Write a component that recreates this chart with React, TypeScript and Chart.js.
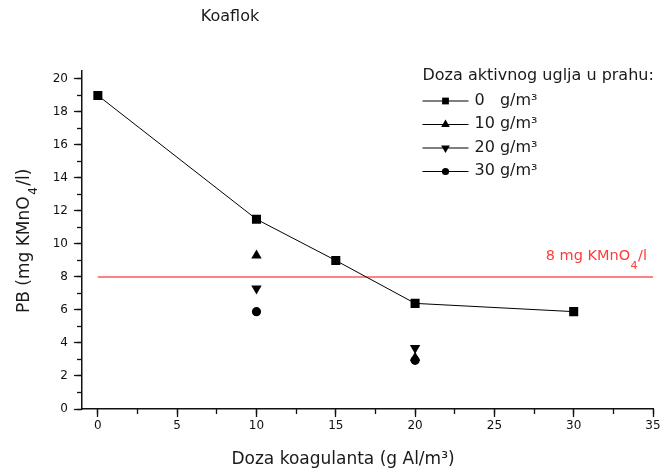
import React, { useEffect, useRef } from 'react';
import { Chart, registerables } from 'chart.js';

Chart.register(...registerables);

const FONT = '"DejaVu Sans", sans-serif';

// ---- data ----
const chartTitle = 'Koaflok';
const xAxisTitle = 'Doza koagulanta (g Al/m³)';
const yAxisTitleParts = ['PB (mg KMnO', '4', '/l)'];
const limitLabelParts = ['8 mg KMnO', '4', '/l'];
const legendTitle = 'Doza aktivnog uglja u prahu:';
const legendLabels = ['0   g/m³', '10 g/m³', '20 g/m³', '30 g/m³'];

const coagDose0 = [0, 10, 15, 20, 30];
const pb0 = [19, 11.5, 9.0, 6.4, 5.9];
const coagDoseAC = [10, 20];
const pb10 = [9.3, 3.1];
const pb20 = [7.3, 3.7];
const pb30 = [5.9, 2.95];
const limitX = [0, 35];
const limitY = [8, 8];

const X_MIN = -1;
const X_MAX = 35;
const X_MAJOR = 5;
const X_MINOR = 2.5;
const Y_MIN = 0;
const Y_MAX = 20.5;
const Y_MAJOR = 2;
const Y_MINOR = 1;

const toPts = (xs: number[], ys: number[]) => xs.map((x, i) => ({ x, y: ys[i] }));

type Part = { t: string; size: number; dy: number; pad?: number };

function drawParts(ctx: CanvasRenderingContext2D, parts: Part[], x: number, y: number, align: 'center' | 'left' | 'right') {
  ctx.textAlign = 'left';
  ctx.textBaseline = 'middle';
  let total = 0;
  const widths = parts.map((p) => {
    ctx.font = `${p.size}px ${FONT}`;
    const w = ctx.measureText(p.t).width + 2 * (p.pad || 0);
    total += w;
    return w;
  });
  let cx = align === 'center' ? x - total / 2 : align === 'right' ? x - total : x;
  parts.forEach((p, i) => {
    ctx.font = `${p.size}px ${FONT}`;
    ctx.fillText(p.t, cx + (p.pad || 0), y + p.dy);
    cx += widths[i];
  });
}

function drawMarker(ctx: CanvasRenderingContext2D, style: string, x: number, y: number, r: number) {
  ctx.beginPath();
  if (style === 'rect') {
    const s = r * Math.SQRT1_2;
    ctx.rect(x - s, y - s, 2 * s, 2 * s);
  } else if (style === 'triangle' || style === 'triangleDown') {
    const sgn = style === 'triangle' ? 1 : -1;
    ctx.moveTo(x, y - sgn * r);
    ctx.lineTo(x + r * Math.sin((2 * Math.PI) / 3), y + sgn * r / 2);
    ctx.lineTo(x - r * Math.sin((2 * Math.PI) / 3), y + sgn * r / 2);
    ctx.closePath();
  } else {
    ctx.arc(x, y, r, 0, Math.PI * 2);
  }
  ctx.fill();
}

const textPlugin = {
  id: 'textPlugin',
  afterDraw(chart: any) {
    const ctx: CanvasRenderingContext2D = chart.ctx;
    const area = chart.chartArea;
    const ys = chart.scales.y;
    ctx.save();
    ctx.fillStyle = '#1a1a1a';

    // title
    drawParts(ctx, [{ t: chartTitle, size: 16, dy: 0 }], 230, 17, 'center');

    // x axis title
    drawParts(ctx, [{ t: xAxisTitle, size: 17, dy: 0 }], 343, 460, 'center');

    // y axis title (rotated)
    ctx.save();
    ctx.translate(25, (area.top + area.bottom) / 2 + 1);
    ctx.rotate(-Math.PI / 2);
    drawParts(
      ctx,
      [
        { t: yAxisTitleParts[0], size: 17, dy: 0 },
        { t: yAxisTitleParts[1], size: 12, dy: 9, pad: 1.5 },
        { t: yAxisTitleParts[2], size: 17, dy: 0 },
      ],
      0,
      0,
      'center'
    );
    ctx.restore();

    // limit label
    ctx.fillStyle = '#ff3b3b';
    const ly = ys.getPixelForValue(limitY[0]);
    drawParts(
      ctx,
      [
        { t: limitLabelParts[0], size: 14.5, dy: 0 },
        { t: limitLabelParts[1], size: 11, dy: 10, pad: 0.5 },
        { t: limitLabelParts[2], size: 14.5, dy: 0 },
      ],
      647,
      ly - 21,
      'right'
    );

    // legend
    ctx.fillStyle = '#1a1a1a';
    const lx = 422.5;
    drawParts(ctx, [{ t: legendTitle, size: 16, dy: 0 }], lx, 76, 'left');
    const styles = ['rect', 'triangle', 'triangleDown', 'circle'];
    const radii = [4.8, 5, 5, 3.6];
    legendLabels.forEach((lab, i) => {
      const y = 100.5 + i * 23.5;
      ctx.strokeStyle = '#000';
      ctx.lineWidth = 1;
      ctx.beginPath();
      ctx.moveTo(lx, y + 0.5);
      ctx.lineTo(lx + 46, y + 0.5);
      ctx.stroke();
      ctx.fillStyle = '#000';
      drawMarker(ctx, styles[i], lx + 23, y + 0.5, radii[i]);
      ctx.fillStyle = '#1a1a1a';
      drawParts(ctx, [{ t: lab, size: 16, dy: 0 }], lx + 52, y, 'left');
    });
    ctx.restore();
  },
};

export default function App() {
  const ref = useRef<HTMLCanvasElement | null>(null);

  useEffect(() => {
    if (!ref.current) return;
    const tickFont = { family: FONT, size: 12 };
    const chart = new Chart(ref.current, {
      type: 'scatter',
      data: {
        datasets: [
          {
            label: legendLabels[0],
            data: toPts(coagDose0, pb0),
            showLine: true,
            borderColor: '#000',
            borderWidth: 1,
            pointStyle: 'rect',
            pointRadius: 6.4,
            pointBackgroundColor: '#000',
            pointBorderWidth: 0,
          },
          {
            label: legendLabels[1],
            data: toPts(coagDoseAC, pb10),
            showLine: false,
            pointStyle: 'triangle',
            pointRadius: 6,
            pointBackgroundColor: '#000',
            pointBorderWidth: 0,
          },
          {
            label: legendLabels[2],
            data: toPts(coagDoseAC, pb20),
            showLine: false,
            pointStyle: 'triangle',
            pointRotation: 180,
            pointRadius: 6,
            pointBackgroundColor: '#000',
            pointBorderWidth: 0,
          },
          {
            label: legendLabels[3],
            data: toPts(coagDoseAC, pb30),
            showLine: false,
            pointStyle: 'circle',
            pointRadius: 4.6,
            pointBackgroundColor: '#000',
            pointBorderWidth: 0,
          },
          {
            label: 'limit',
            data: toPts(limitX, limitY),
            showLine: true,
            borderColor: '#ff5a5a',
            borderWidth: 1.5,
            pointRadius: 0,
          },
        ],
      },
      options: {
        responsive: false,
        animation: false,
        events: [],
        layout: { padding: { top: 70.7, right: 11, left: 0, bottom: 0 } },
        plugins: { legend: { display: false }, tooltip: { enabled: false }, title: { display: false } },
        scales: {
          x: {
            type: 'linear',
            position: 'bottom',
            weight: 1,
            min: X_MIN,
            max: X_MAX,
            ticks: { stepSize: X_MAJOR, includeBounds: false, font: tickFont, color: '#111', padding: 2, maxRotation: 0, autoSkip: false },
            grid: { drawOnChartArea: false, drawTicks: true, tickLength: 8, tickColor: '#111', tickWidth: 1.3 },
            border: { display: true, color: '#111', width: 1.5 },
            afterFit: (s: any) => { s.height = 64; },
          },
          x2: {
            type: 'linear',
            position: 'bottom',
            weight: 0,
            min: X_MIN,
            max: X_MAX,
            ticks: { display: false, stepSize: X_MINOR, includeBounds: false, autoSkip: false },
            grid: { drawOnChartArea: false, drawTicks: true, tickLength: 5, tickColor: '#111', tickWidth: 1.3 },
            border: { display: false },
            afterFit: (s: any) => { s.height = 0; },
          },
          y: {
            type: 'linear',
            position: 'left',
            weight: 1,
            min: Y_MIN,
            max: Y_MAX,
            ticks: { stepSize: Y_MAJOR, includeBounds: false, font: tickFont, color: '#111', padding: 6, autoSkip: false },
            grid: { drawOnChartArea: false, drawTicks: true, tickLength: 8, tickColor: '#111', tickWidth: 1.3 },
            border: { display: true, color: '#111', width: 1.5 },
            afterFit: (s: any) => { s.width = 82; },
          },
          y2: {
            type: 'linear',
            position: 'left',
            weight: 0,
            min: Y_MIN,
            max: Y_MAX,
            ticks: { display: false, stepSize: Y_MINOR, includeBounds: false, autoSkip: false },
            grid: { drawOnChartArea: false, drawTicks: true, tickLength: 5, tickColor: '#111', tickWidth: 1.3 },
            border: { display: false },
            afterFit: (s: any) => { s.width = 0; },
          },
        },
      } as any,
      plugins: [textPlugin],
    });
    return () => chart.destroy();
  }, []);

  return (
    <div style={{ position: 'fixed', left: 0, top: 0, width: 664, height: 473, background: '#fff' }}>
      <canvas ref={ref} width={664} height={473} style={{ display: 'block', width: 664, height: 473 }} />
    </div>
  );
}
